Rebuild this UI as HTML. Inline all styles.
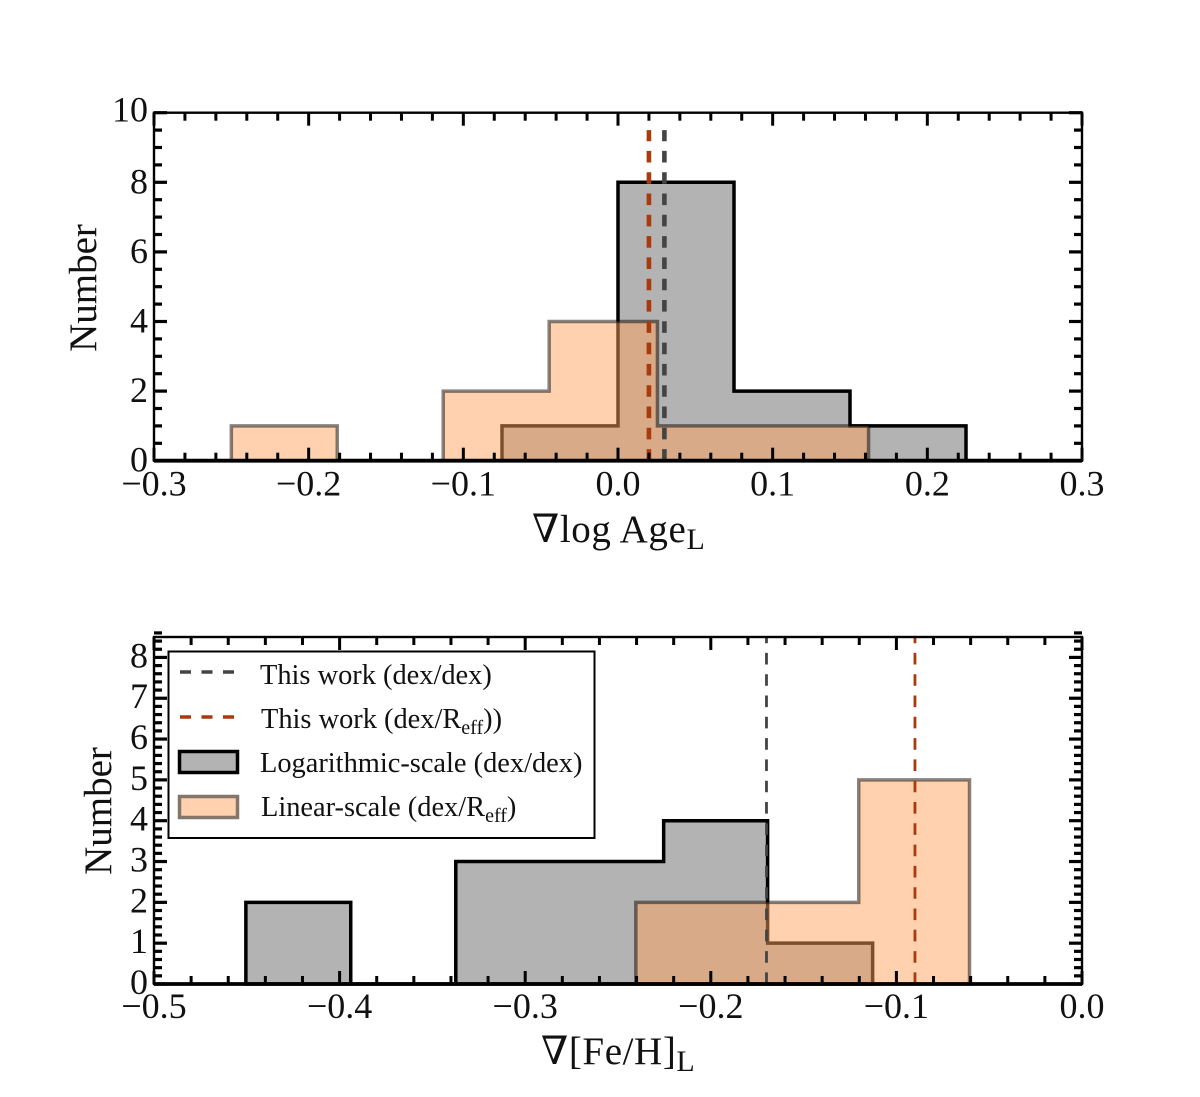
<!DOCTYPE html>
<html>
<head>
<meta charset="utf-8">
<title>Gradient histograms</title>
<style>
html,body{margin:0;padding:0;background:#fff;width:1200px;height:1097px;overflow:hidden}
svg{display:block}
text{font-family:"Liberation Serif","DejaVu Serif",serif;fill:#111}
</style>
</head>
<body>
<svg id="fig" xmlns="http://www.w3.org/2000/svg" width="1200" height="1097" viewBox="0 0 1200 1097">
  <g id="top-panel"></g>
  <g id="bottom-panel"></g>
  <g id="legend">
    <rect x="168.5" y="651.5" width="426" height="186.5" fill="#fff" stroke="#000" stroke-width="2"/>
    <line x1="180" x2="234" y1="672" y2="672" stroke="#444" stroke-width="3.5" stroke-dasharray="11 10.5"/>
    <text x="260" y="684" font-size="28.4">This work (dex/dex)</text>
    <line x1="180" x2="234" y1="717" y2="717" stroke="#a83a0c" stroke-width="3.5" stroke-dasharray="11 10.5"/>
    <text x="261" y="728" font-size="28.4">This work (dex/R<tspan font-size="20" dy="6">eff</tspan><tspan dy="-6">))</tspan></text>
    <rect x="179.5" y="751.5" width="58" height="21" fill="#b3b3b3" stroke="#000" stroke-width="3.5"/>
    <text x="260" y="772" font-size="28.4">Logarithmic-scale (dex/dex)</text>
    <rect x="179.5" y="796.5" width="58" height="21" fill="#ffd1ae" stroke="#85766b" stroke-width="3.5"/>
    <text x="261" y="816" font-size="28.4">Linear-scale (dex/R<tspan font-size="20" dy="6">eff</tspan><tspan dy="-6">)</tspan></text>
  </g>
</svg>
<script>
// Top panel data
var ageLogEdges = [-0.075, 0, 0.075, 0.15, 0.225];
var ageLogCounts = [1, 8, 2, 1];
var ageLinEdges = [-0.25, -0.1815, -0.113, -0.0445, 0.0255, 0.094, 0.162];
var ageLinCounts = [1, 0, 2, 4, 1, 1];
var ageXTicks = [-0.3, -0.2, -0.1, 0.0, 0.1, 0.2, 0.3];
var ageXLabels = ['\u22120.3', '\u22120.2', '\u22120.1', '0.0', '0.1', '0.2', '0.3'];
var ageYTicks = [0, 2, 4, 6, 8, 10];
var ageYLabels = ['0', '2', '4', '6', '8', '10'];
var ageMarkers = [0.03, 0.02];
// Bottom panel data
var fehLogEdges = [-0.4505, -0.394, -0.3374, -0.2814, -0.2254, -0.1694, -0.1128];
var fehLogCounts = [2, 0, 3, 3, 4, 1];
var fehLinEdges = [-0.2404, -0.1803, -0.1203, -0.0606];
var fehLinCounts = [2, 2, 5];
var fehXTicks = [-0.5, -0.4, -0.3, -0.2, -0.1, 0.0];
var fehXLabels = ['\u22120.5', '\u22120.4', '\u22120.3', '\u22120.2', '\u22120.1', '0.0'];
var fehYTicks = [0, 1, 2, 3, 4, 5, 6, 7, 8];
var fehYLabels = ['0', '1', '2', '3', '4', '5', '6', '7', '8'];
var fehMarkers = [-0.17, -0.09];

var NS = 'http://www.w3.org/2000/svg';
function mk(parent, tag, attrs, txt) {
  var el = document.createElementNS(NS, tag);
  for (var k in attrs) el.setAttribute(k, attrs[k]);
  if (txt !== undefined) el.textContent = txt;
  parent.appendChild(el);
  return el;
}
function scale(d0, d1, r0, r1) {
  return function (v) { return r0 + (v - d0) * (r1 - r0) / (d1 - d0); };
}
function histPath(edges, counts, x, y) {
  var d = 'M' + x(edges[0]) + ' ' + y(0);
  for (var i = 0; i < counts.length; i++) {
    d += 'L' + x(edges[i]) + ' ' + y(counts[i]) + 'L' + x(edges[i + 1]) + ' ' + y(counts[i]);
  }
  return d + 'L' + x(edges[edges.length - 1]) + ' ' + y(0) + 'Z';
}
function drawPanel(g, cfg) {
  var x = scale(cfg.xMin, cfg.xMax, cfg.left, cfg.right);
  var y = scale(cfg.yMin, cfg.yMax, cfg.bottom, cfg.top);
  var el;

  el = mk(g, 'path', { d: histPath(cfg.logEdges, cfg.logCounts, x, y), fill: '#b3b3b3', stroke: '#000', 'stroke-width': 3.5, 'stroke-linejoin': 'miter' });
  
  

  el = mk(g, 'path', { d: histPath(cfg.linEdges, cfg.linCounts, x, y), fill: 'rgb(255,161,90)', 'fill-opacity': 0.49, stroke: '#000', 'stroke-opacity': 0.48, 'stroke-width': 3.5 });
  
  

  var colors = ['#444444', '#a83a0c'];
  var names = ['marker-line-dex-dex', 'marker-line-dex-reff'];
  for (var m = 0; m < cfg.markers.length; m++) {
    el = mk(g, 'line', { x1: x(cfg.markers[m]), x2: x(cfg.markers[m]), y1: y(0), y2: y(cfg.markerTop), stroke: colors[m], 'stroke-width': cfg.markerWidth, 'stroke-dasharray': '11.6 9.7' });
    
    
  }

  // frame
  el = mk(g, 'rect', { x: cfg.left, y: cfg.top, width: cfg.right - cfg.left, height: cfg.bottom - cfg.top, fill: 'none', stroke: '#000', 'stroke-width': 2.4 });
  
  
  el = mk(g, 'line', { x1: cfg.left, x2: cfg.right, y1: cfg.bottom, y2: cfg.bottom, stroke: '#000', 'stroke-width': 3.8 });
  
  

  // x ticks
  var ticks = mk(g, 'g', { stroke: '#000' });
  
  
  var nx = Math.round((cfg.xMax - cfg.xMin) / cfg.xMinor);
  for (var i = 0; i <= nx; i++) {
    var xv = cfg.xMin + i * cfg.xMinor;
    var majX = i % 5 === 0;
    var lx = majX ? 13 : 8;
    mk(ticks, 'line', { x1: x(xv), x2: x(xv), y1: cfg.bottom, y2: cfg.bottom - lx, 'stroke-width': 3 });
    mk(ticks, 'line', { x1: x(xv), x2: x(xv), y1: cfg.top, y2: cfg.top + lx, 'stroke-width': 3 });
  }
  // y ticks
  var ny = Math.round((cfg.yMax - cfg.yMin) / cfg.yMinor);
  for (var j = 0; j <= ny; j++) {
    var yv = cfg.yMin + j * cfg.yMinor;
    var majY = j % cfg.yEvery === 0;
    var ly = majY ? 13 : 8;
    mk(ticks, 'line', { x1: cfg.left, x2: cfg.left + ly, y1: y(yv), y2: y(yv), 'stroke-width': 3.2 });
    mk(ticks, 'line', { x1: cfg.right, x2: cfg.right - ly, y1: y(yv), y2: y(yv), 'stroke-width': 3.2 });
  }

  // tick labels
  for (var a = 0; a < cfg.xTicks.length; a++) {
    el = mk(g, 'text', { x: x(cfg.xTicks[a]), y: cfg.bottom + cfg.xLabelGap, 'font-size': 36, 'text-anchor': 'middle' }, cfg.xLabels[a]);
    
    
  }
  for (var b = 0; b < cfg.yTicks.length; b++) {
    var shift = (b === cfg.yTicks.length - 1) ? cfg.lastLabelShift : cfg.yLabelShift;
    el = mk(g, 'text', { x: 148, y: y(cfg.yTicks[b]) + shift, 'font-size': 36, 'text-anchor': 'end' }, cfg.yLabels[b]);
    
    
  }

  // y title
  el = mk(g, 'text', { x: 0, y: 0, 'font-size': 39, 'text-anchor': 'middle', transform: 'translate(' + cfg.yTitleX + ' ' + cfg.yTitleY + ') rotate(-90)' }, 'Number');
  
  

  // x title
  el = mk(g, 'text', { x: cfg.xTitleX, y: cfg.xTitleY, 'font-size': 39, 'letter-spacing': 0.6 });
  
  
  mk(el, 'tspan', {}, cfg.xTitle);
  mk(el, 'tspan', { 'font-size': 30, dy: 7 }, 'L');
}

drawPanel(document.getElementById('top-panel'), {
  left: 154, right: 1082, top: 112.7, bottom: 460.7,
  xMin: -0.3, xMax: 0.3, xMinor: 0.02,
  yMin: 0, yMax: 10, yMinor: 0.5, yEvery: 4,
  logEdges: ageLogEdges, logCounts: ageLogCounts,
  linEdges: ageLinEdges, linCounts: ageLinCounts,
  xTicks: ageXTicks, xLabels: ageXLabels,
  yTicks: ageYTicks, yLabels: ageYLabels,
  xLabelGap: 35, yLabelShift: 11, lastLabelShift: 9,
  markers: ageMarkers, markerTop: 9.5, markerWidth: 4.6,
  yTitleX: 96, yTitleY: 288,
  xTitleX: 532, xTitleY: 542, xTitle: '\u2207log Age'
});
drawPanel(document.getElementById('bottom-panel'), {
  left: 154, right: 1082, top: 637, bottom: 984,
  xMin: -0.5, xMax: 0, xMinor: 0.02,
  yMin: 0, yMax: 8.5, yMinor: 0.2, yEvery: 5,
  logEdges: fehLogEdges, logCounts: fehLogCounts,
  linEdges: fehLinEdges, linCounts: fehLinCounts,
  xTicks: fehXTicks, xLabels: fehXLabels,
  yTicks: fehYTicks, yLabels: fehYLabels,
  xLabelGap: 34, yLabelShift: 10, lastLabelShift: 10,
  markers: fehMarkers, markerTop: 8.5, markerWidth: 2.8,
  yTitleX: 111, yTitleY: 811,
  xTitleX: 541, xTitleY: 1064, xTitle: '\u2207[Fe/H]'
});
// Legend on top of the lower panel's ticks
document.getElementById('fig').appendChild(document.getElementById('legend'));
</script>
</body>
</html>
